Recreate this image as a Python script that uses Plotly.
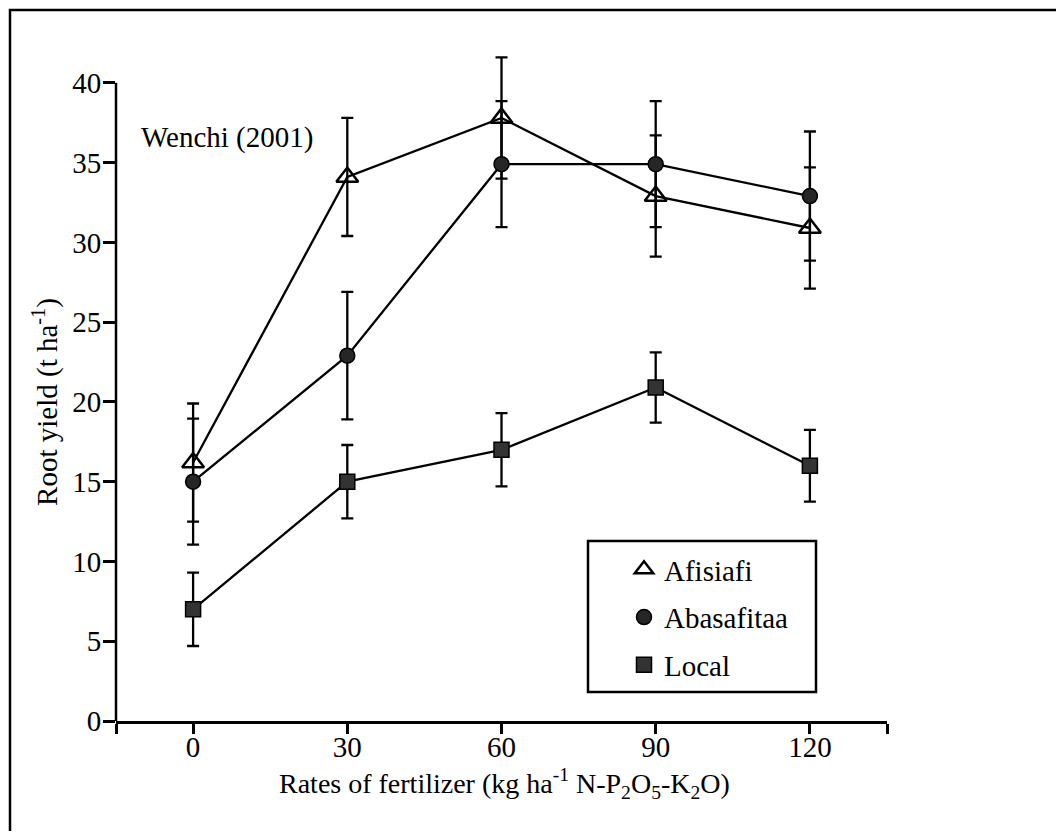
import plotly.graph_objects as go

rates = [0, 30, 60, 90, 120]
afisiafi = [16.2, 34.1, 37.8, 32.9, 30.9]
afisiafi_err = [3.7, 3.7, 3.8, 3.8, 3.8]
abasafitaa = [15.0, 22.9, 34.9, 34.9, 32.9]
abasafitaa_err = [3.95, 4.0, 3.95, 3.95, 4.05]
local = [7.0, 15.0, 17.0, 20.9, 16.0]
local_err = [2.3, 2.3, 2.3, 2.2, 2.25]

x_tickvals = [-15, 0, 30, 60, 90, 120, 135]
x_ticktext = ["", "0", "30", "60", "90", "120", ""]
y_tickvals = [0, 5, 10, 15, 20, 25, 30, 35, 40]

FONT = "Liberation Serif"
FS = 29

series = [
    ("Afisiafi", afisiafi, afisiafi_err, dict(symbol="triangle-up-open", size=19, color="black",
                                              line=dict(color="black", width=2.5))),
    ("Abasafitaa", abasafitaa, abasafitaa_err, dict(symbol="circle", size=15, color="#262626",
                                                    line=dict(color="black", width=1.5))),
    ("Local", local, local_err, dict(symbol="square", size=15, color="#333333",
                                     line=dict(color="black", width=1.5))),
]

fig = go.Figure()
for name, vals, errs, mk in series:
    fig.add_trace(go.Scatter(
        x=rates, y=vals, mode="lines+markers", name=name, showlegend=False,
        line=dict(color="black", width=2.3), marker=mk, cliponaxis=False,
        error_y=dict(type="data", array=errs, visible=True, color="black", thickness=2.3, width=6),
    ))
for name, vals, errs, mk in series:
    fig.add_trace(go.Scatter(
        x=[None], y=[None], mode="markers", name=name, legendgroup=name, marker=mk,
    ))

# target plot-area edges in reference pixels
L, R, T, B = 117, 888, 20, 722
OFF = 9  # page offset of the figure inside the window
W, H = 1064 - OFF, 832 - OFF
pw, ph = R - L, B - T


def px(xp):
    return (xp - L) / pw


def py(yp):
    return (B - yp) / ph


fig.update_layout(
    width=W, height=H,
    margin=dict(l=L - OFF, r=W - (R - OFF), t=T - OFF, b=H - (B - OFF)),
    paper_bgcolor="white", plot_bgcolor="white",
    font=dict(family=FONT, size=FS, color="black"),
    showlegend=True,
    legend=dict(x=px(625), y=py(545), xanchor="left", yanchor="top",
                bgcolor="rgba(0,0,0,0)", borderwidth=0, tracegroupgap=7,
                font=dict(family=FONT, size=FS, color="black")),
    xaxis=dict(range=[-15, 135], tickvals=x_tickvals, ticktext=x_ticktext,
               showline=True, linecolor="black", linewidth=2.5,
               ticks="outside", ticklen=10, tickwidth=2.5, tickcolor="black",
               ticklabelstandoff=-12,
               showgrid=False, zeroline=False,
               tickfont=dict(family=FONT, size=FS, color="black")),
    yaxis=dict(range=[0, 44], tickvals=y_tickvals,
               showline=False, ticks="outside", ticklen=12, tickwidth=2.5, tickcolor="black",
               ticklabelstandoff=-4,
               showgrid=False, zeroline=False,
               tickfont=dict(family=FONT, size=FS, color="black")),
    shapes=[
        dict(type="line", xref="paper", yref="y", x0=0, x1=0, y0=0, y1=40,
             line=dict(color="black", width=2.5)),
        dict(type="rect", xref="paper", yref="paper", x0=px(589), x1=px(817), y0=py(693), y1=py(542),
             line=dict(color="black", width=2.5), fillcolor="rgba(0,0,0,0)"),
        dict(type="rect", xref="paper", yref="paper", x0=px(11), x1=px(1090), y0=py(860), y1=py(11),
             line=dict(color="black", width=2.5), fillcolor="rgba(0,0,0,0)", layer="below"),
    ],
    annotations=[
        dict(text="Wenchi (2001)", xref="paper", yref="paper", x=px(140), y=py(138),
             xanchor="left", yanchor="middle", showarrow=False,
             font=dict(family=FONT, size=FS, color="black")),
        dict(text="Root yield (t ha<sup>-1</sup>)", xref="paper", yref="y", x=px(47), y=20,
             xanchor="center", yanchor="middle", textangle=-90, showarrow=False,
             font=dict(family=FONT, size=FS, color="black")),
        dict(text="Rates of fertilizer (kg ha<sup>-1</sup> N-P<sub>2</sub>O<sub>5</sub>-K<sub>2</sub>O)",
             xref="paper", yref="paper", x=px(505), y=py(784),
             xanchor="center", yanchor="middle", showarrow=False,
             font=dict(family=FONT, size=28, color="black")),
    ],
)

fig.write_html("out.html")
